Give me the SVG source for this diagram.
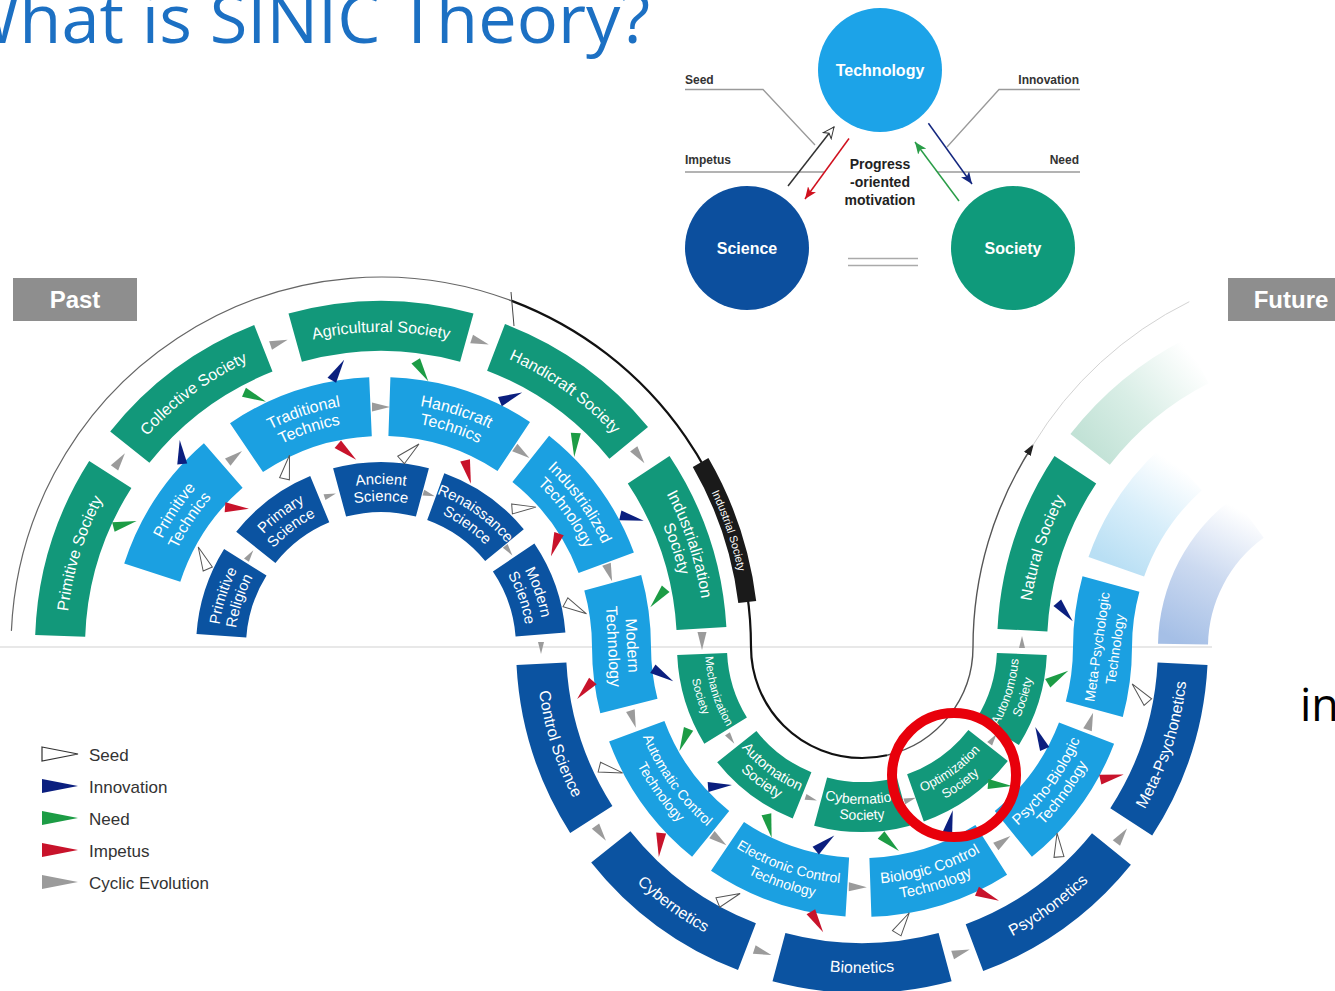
<svg xmlns="http://www.w3.org/2000/svg" width="1335" height="991" viewBox="0 0 1335 991">
<style>
.soc{fill:#12987a}.tec{fill:#1ba0e1}.sci{fill:#0b53a1}
.lbl{font-family:"Liberation Sans",Arial,sans-serif;fill:#fff;text-anchor:middle}
.cyc{fill:#9b9b9b}.seed{fill:#fff;stroke:#555;stroke-width:1}.inno{fill:#0b1f7f}.need{fill:#1c9c45}.imp{fill:#c8132b}
.lead{fill:none;stroke:#9a9a9a;stroke-width:1.3}
.tri{font-family:"Liberation Sans",Arial,sans-serif;font-weight:bold;fill:#fff;font-size:16px;text-anchor:middle}
.tlab{font-family:"Liberation Sans",Arial,sans-serif;font-weight:bold;fill:#333;font-size:12px}
.leg{font-family:"Liberation Sans",Arial,sans-serif;fill:#333;font-size:17px}
</style>
<defs>
<path id="cw315" d="M-202.48,-241.3 A315 315 0 0 1 202.48,-241.3"/>
<path id="cw324" d="M-208.26,-248.2 A324 324 0 0 1 208.26,-248.2"/>
<path id="cw307" d="M-197.34,-235.17 A307 307 0 0 1 197.34,-235.17"/>
<path id="cw244" d="M-156.84,-186.91 A244 244 0 0 1 156.84,-186.91"/>
<path id="cw226" d="M-145.27,-173.13 A226 226 0 0 1 145.27,-173.13"/>
<path id="cw163" d="M-104.77,-124.86 A163 163 0 0 1 104.77,-124.86"/>
<path id="cw146" d="M-93.85,-111.84 A146 146 0 0 1 93.85,-111.84"/>
<path id="cw365" d="M-234.62,-279.6 A365 365 0 0 1 234.62,-279.6"/>
<path id="ccw157" d="M-100.92,120.27 A157 157 0 0 0 100.92,120.27"/>
<path id="ccw173" d="M-111.2,132.53 A173 173 0 0 0 111.2,132.53"/>
<path id="ccw237" d="M-152.34,181.55 A237 237 0 0 0 152.34,181.55"/>
<path id="ccw254" d="M-163.27,194.57 A254 254 0 0 0 163.27,194.57"/>
<path id="ccw326" d="M-209.55,249.73 A326 326 0 0 0 209.55,249.73"/>
<polygon id="tB" points="-12,-5 12,0 -12,5"/>
<polygon id="tG" points="-9,-4.5 9,0 -9,4.5"/>
<polygon id="tS" points="-6,-3 6,0 -6,3"/>
<marker id="tipK" markerUnits="userSpaceOnUse" markerWidth="12" markerHeight="8" refX="10" refY="4" orient="auto"><path d="M0,0 L12,4 L0,8 z" fill="#222"/></marker>
<marker id="mSeed" markerUnits="userSpaceOnUse" markerWidth="14" markerHeight="12" refX="12" refY="6" orient="auto"><path d="M1,1 L12,6 L1,11 L4,6 z" fill="#fff" stroke="#333" stroke-width="1"/></marker>
<marker id="mRed" markerUnits="userSpaceOnUse" markerWidth="13" markerHeight="10" refX="12" refY="5" orient="auto"><path d="M0,0 L12,5 L0,10 L3,5 z" fill="#d0101e"/></marker>
<marker id="mGreen" markerUnits="userSpaceOnUse" markerWidth="13" markerHeight="10" refX="12" refY="5" orient="auto"><path d="M0,0 L12,5 L0,10 L3,5 z" fill="#2a9d48"/></marker>
<marker id="mNavy" markerUnits="userSpaceOnUse" markerWidth="13" markerHeight="10" refX="12" refY="5" orient="auto"><path d="M0,0 L12,5 L0,10 L3,5 z" fill="#14277f"/></marker>
<linearGradient id="gFadeG" gradientUnits="userSpaceOnUse" x1="1090" y1="449" x2="1197" y2="361"><stop offset="0" stop-color="#c2e2d6"/><stop offset="0.45" stop-color="#d9eee6"/><stop offset="1" stop-color="#ffffff"/></linearGradient>
<linearGradient id="gFadeL" gradientUnits="userSpaceOnUse" x1="1117" y1="567" x2="1182" y2="469"><stop offset="0" stop-color="#b9dff4"/><stop offset="0.5" stop-color="#d8eefa"/><stop offset="1" stop-color="#ffffff"/></linearGradient>
<linearGradient id="gFadeD" gradientUnits="userSpaceOnUse" x1="1183" y1="644" x2="1251" y2="516"><stop offset="0" stop-color="#a5bfe6"/><stop offset="0.5" stop-color="#cbd9f0"/><stop offset="1" stop-color="#ffffff"/></linearGradient>
</defs>
<rect width="1335" height="991" fill="#fff"/>

<text x="-44" y="43" font-family="Open Sans, sans-serif" font-size="68" fill="#1c70c3" textLength="694" lengthAdjust="spacingAndGlyphs">What is SINIC Theory?</text>
<text x="1300" y="721" font-family="Open Sans, sans-serif" font-size="45" fill="#000">in</text>

<line x1="0" y1="647" x2="1212" y2="647" stroke="#d2d2d2" stroke-width="1.2"/>

<g id="past"><rect x="13" y="278" width="124" height="43" fill="#8e8e8e"/><text x="75" y="308" font-family="Liberation Sans, Arial, sans-serif" font-weight="bold" font-size="24" fill="#fff" text-anchor="middle">Past</text></g>
<g id="future"><rect x="1228" y="278" width="110" height="43" fill="#8e8e8e"/><text x="1291" y="308" font-family="Liberation Sans, Arial, sans-serif" font-weight="bold" font-size="24" fill="#fff" text-anchor="middle">Future</text></g>

<g id="spiral-line" fill="none">
<path d="M11.4,630.9 A370 370 0 0 1 511.8,300.9" stroke="#666" stroke-width="1.2"/>
<path d="M511.8,300.9 A370 370 0 0 1 751,647 A111 111 0 0 0 862,758 A111 111 0 0 0 887,755.2" stroke="#111" stroke-width="2.2"/>
<path d="M887,755.2 A111 111 0 0 0 973,647 A370 370 0 0 1 1032.7,445.5" stroke="#555" stroke-width="1.4" marker-end="url(#tipK)"/>
<path d="M1032.7,445.5 A378 378 0 0 1 1189.3,301.7" stroke="#d3d3d3" stroke-width="1"/>
<line x1="511" y1="292" x2="514" y2="326" stroke="#444" stroke-width="1"/>
</g>

<g id="industrial-society"><path d="M708.4,458 A378 378 0 0 1 756.2,600.9 L738.3,603.1 A360 360 0 0 0 692.8,467 Z" fill="#1a1a1a"/><text class="lbl" font-size="11" transform="translate(381 647) rotate(71.5)"><textPath href="#cw365" startOffset="50%">Industrial Society</textPath></text></g>

<g id="future-society"><path d="M1070.4,434 A346 346 0 0 1 1185.9,338.7 L1208.6,383.3 A296 296 0 0 0 1109.8,464.8Z" fill="url(#gFadeG)"/></g>
<g id="future-technology"><path d="M1088.5,556.9 A270 270 0 0 1 1162.3,446.4 L1201.8,490.2 A211 211 0 0 0 1144.1,576.6Z" fill="url(#gFadeL)"/></g>
<g id="future-science"><path d="M1158,643.8 A185 185 0 0 1 1234.3,497.3 L1263.7,537.8 A135 135 0 0 0 1208,644.6Z" fill="url(#gFadeD)"/></g>

<g id="primitive-society"><path class="soc" d="M35.2,634.9 A346 346 0 0 1 89.2,461.1 L131.4,488 A296 296 0 0 0 85.2,636.7Z"/><text class="lbl" font-size="16" transform="translate(381 647) rotate(-72.75)"><textPath href="#cw315" startOffset="50%">Primitive Society</textPath></text></g>
<g id="collective-society"><path class="soc" d="M110.2,431.6 A346 346 0 0 1 254.2,325.1 L272.5,371.6 A296 296 0 0 0 149.4,462.7Z"/><text class="lbl" font-size="16" transform="translate(381 647) rotate(-36.5)"><textPath href="#cw315" startOffset="50%">Collective Society</textPath></text></g>
<g id="agricultural-society"><path class="soc" d="M288.5,313.6 A346 346 0 0 1 473.5,313.6 L460.1,361.8 A296 296 0 0 0 301.9,361.8Z"/><text class="lbl" font-size="16" transform="translate(381 647)"><textPath href="#cw315" startOffset="50%">Agricultural Society</textPath></text></g>
<g id="handicraft-society"><path class="soc" d="M505,324 A346 346 0 0 1 648,426.9 L609.4,458.7 A296 296 0 0 0 487.1,370.7Z"/><text class="lbl" font-size="16" transform="translate(381 647) rotate(35.75)"><textPath href="#cw315" startOffset="50%">Handicraft Society</textPath></text></g>
<g id="industrialization-society"><path class="soc" d="M669.5,456 A346 346 0 0 1 726.4,627.1 L676.5,630 A296 296 0 0 0 627.8,483.6Z"/><text class="lbl" font-size="16" transform="translate(381 647) rotate(71.6)"><textPath href="#cw324" startOffset="50%">Industrialization</textPath></text><text class="lbl" font-size="16" transform="translate(381 647) rotate(71.6)"><textPath href="#cw307" startOffset="50%">Society</textPath></text></g>

<g id="primitive-technics"><path class="tec" d="M124.2,563.6 A270 270 0 0 1 203.9,443.2 L242.6,487.8 A211 211 0 0 0 180.3,581.8Z"/><text class="lbl" font-size="16" transform="translate(381 647) rotate(-56.5)"><textPath href="#cw244" startOffset="50%">Primitive</textPath></text><text class="lbl" font-size="16" transform="translate(381 647) rotate(-56.5)"><textPath href="#cw226" startOffset="50%">Technics</textPath></text></g>
<g id="traditional-technics"><path class="tec" d="M230,423.2 A270 270 0 0 1 369.2,377.3 L371.8,436.2 A211 211 0 0 0 263,472.1Z"/><text class="lbl" font-size="16" transform="translate(381 647) rotate(-18.25)"><textPath href="#cw244" startOffset="50%">Traditional</textPath></text><text class="lbl" font-size="16" transform="translate(381 647) rotate(-18.25)"><textPath href="#cw226" startOffset="50%">Technics</textPath></text></g>
<g id="handicraft-technics"><path class="tec" d="M390.4,377.2 A270 270 0 0 1 530,421.9 L497.5,471.1 A211 211 0 0 0 388.4,436.1Z"/><text class="lbl" font-size="16" transform="translate(381 647) rotate(17.75)"><textPath href="#cw244" startOffset="50%">Handicraft</textPath></text><text class="lbl" font-size="16" transform="translate(381 647) rotate(17.75)"><textPath href="#cw226" startOffset="50%">Technics</textPath></text></g>
<g id="industrialized-technology"><path class="tec" d="M549.1,435.7 A270 270 0 0 1 633.9,552.4 L578.6,573.1 A211 211 0 0 0 512.4,481.9Z"/><text class="lbl" font-size="16" transform="translate(381 647) rotate(54)"><textPath href="#cw244" startOffset="50%">Industrialized</textPath></text><text class="lbl" font-size="16" transform="translate(381 647) rotate(54)"><textPath href="#cw226" startOffset="50%">Technology</textPath></text></g>
<g id="modern-technology"><path class="tec" d="M641.2,574.9 A270 270 0 0 1 651,647 A211 211 0 0 0 657.5,698.8 L600.3,713.2 A270 270 0 0 1 592,647 A211 211 0 0 0 584.3,590.6Z"/><text class="lbl" font-size="16" transform="translate(623 646) rotate(87)"><tspan x="0" y="-4">Modern</tspan><tspan x="0" y="15">Technology</tspan></text></g>

<g id="primitive-religion"><path class="sci" d="M196.5,634.1 A185 185 0 0 1 224.1,549 L266.5,575.5 A135 135 0 0 0 246.3,637.6Z"/><text class="lbl" font-size="15" transform="translate(381 647) rotate(-72)"><textPath href="#cw163" startOffset="50%">Primitive</textPath></text><text class="lbl" font-size="15" transform="translate(381 647) rotate(-72)"><textPath href="#cw146" startOffset="50%">Religion</textPath></text></g>
<g id="primary-science"><path class="sci" d="M236.2,531.8 A185 185 0 0 1 310.2,476.1 L329.3,522.3 A135 135 0 0 0 275.4,563Z"/><text class="lbl" font-size="15" transform="translate(381 647) rotate(-37)"><textPath href="#cw163" startOffset="50%">Primary</textPath></text><text class="lbl" font-size="15" transform="translate(381 647) rotate(-37)"><textPath href="#cw146" startOffset="50%">Science</textPath></text></g>
<g id="ancient-science"><path class="sci" d="M333.1,468.3 A185 185 0 0 1 428.9,468.3 L415.9,516.6 A135 135 0 0 0 346.1,516.6Z"/><text class="lbl" font-size="15" transform="translate(381 647)"><textPath href="#cw163" startOffset="50%">Ancient</textPath></text><text class="lbl" font-size="15" transform="translate(381 647)"><textPath href="#cw146" startOffset="50%">Science</textPath></text></g>
<g id="renaissance-science"><path class="sci" d="M444.3,473.2 A185 185 0 0 1 523.8,529.3 L485.2,561.1 A135 135 0 0 0 427.2,520.1Z"/><text class="lbl" font-size="15" transform="translate(381 647) rotate(35.25)"><textPath href="#cw163" startOffset="50%">Renaissance</textPath></text><text class="lbl" font-size="15" transform="translate(381 647) rotate(35.25)"><textPath href="#cw146" startOffset="50%">Science</textPath></text></g>
<g id="modern-science"><path class="sci" d="M534.4,543.6 A185 185 0 0 1 565.4,632.5 L515.6,636.4 A135 135 0 0 0 492.9,571.5Z"/><text class="lbl" font-size="15" transform="translate(381 647) rotate(70.75)"><textPath href="#cw163" startOffset="50%">Modern</textPath></text><text class="lbl" font-size="15" transform="translate(381 647) rotate(70.75)"><textPath href="#cw146" startOffset="50%">Science</textPath></text></g>

<g id="mechanization-society"><path class="soc" d="M704.3,743.7 A185 185 0 0 1 677.2,655.1 L727.1,652.9 A135 135 0 0 0 746.9,717.5Z"/><text class="lbl" font-size="11.5" transform="translate(862 647) rotate(73)"><textPath href="#ccw157" startOffset="50%">Mechanization</textPath></text><text class="lbl" font-size="11.5" transform="translate(862 647) rotate(73)"><textPath href="#ccw173" startOffset="50%">Society</textPath></text></g>
<g id="automation-society"><path class="soc" d="M792.7,818.5 A185 185 0 0 1 717.2,762.2 L756.4,731 A135 135 0 0 0 811.4,772.2Z"/><text class="lbl" font-size="14.5" transform="translate(862 647) rotate(36.75)"><textPath href="#ccw157" startOffset="50%">Automation</textPath></text><text class="lbl" font-size="14.5" transform="translate(862 647) rotate(36.75)"><textPath href="#ccw173" startOffset="50%">Society</textPath></text></g>
<g id="cybernation-society"><path class="soc" d="M909.9,825.7 A185 185 0 0 1 814.1,825.7 L827.1,777.4 A135 135 0 0 0 896.9,777.4Z"/><text class="lbl" font-size="14" transform="translate(862 647)"><textPath href="#ccw157" startOffset="50%">Cybernation</textPath></text><text class="lbl" font-size="14" transform="translate(862 647)"><textPath href="#ccw173" startOffset="50%">Society</textPath></text></g>
<g id="optimization-society"><path class="soc" d="M1007.8,760.9 A185 185 0 0 1 923.8,821.4 L907.1,774.3 A135 135 0 0 0 968.4,730.1Z"/><text class="lbl" font-size="13" transform="translate(862 647) rotate(-35.75)"><textPath href="#ccw157" startOffset="50%">Optimization</textPath></text><text class="lbl" font-size="13" transform="translate(862 647) rotate(-35.75)"><textPath href="#ccw173" startOffset="50%">Society</textPath></text></g>
<g id="autonomous-society"><path class="soc" d="M1046.8,655.1 A185 185 0 0 1 1018.9,745 L976.5,718.5 A135 135 0 0 0 996.9,652.9Z"/><text class="lbl" font-size="12.5" transform="translate(862 647) rotate(-72.75)"><textPath href="#ccw157" startOffset="50%">Autonomous</textPath></text><text class="lbl" font-size="12.5" transform="translate(862 647) rotate(-72.75)"><textPath href="#ccw173" startOffset="50%">Society</textPath></text></g>

<g id="automatic-control-technology"><path class="tec" d="M692.1,856.8 A270 270 0 0 1 609.1,741.6 L664.4,720.9 A211 211 0 0 0 729.2,811Z"/><text class="lbl" font-size="14" transform="translate(862 647) rotate(54.25)"><textPath href="#ccw237" startOffset="50%">Automatic Control</textPath></text><text class="lbl" font-size="14" transform="translate(862 647) rotate(54.25)"><textPath href="#ccw254" startOffset="50%">Technology</textPath></text></g>
<g id="electronic-control-technology"><path class="tec" d="M845.5,916.5 A270 270 0 0 1 711,870.8 L744,821.9 A211 211 0 0 0 849.1,857.6Z"/><text class="lbl" font-size="14" transform="translate(862 647) rotate(18.75)"><textPath href="#ccw237" startOffset="50%">Electronic Control</textPath></text><text class="lbl" font-size="14" transform="translate(862 647) rotate(18.75)"><textPath href="#ccw254" startOffset="50%">Technology</textPath></text></g>
<g id="biologic-control-technology"><path class="tec" d="M1007.1,874.7 A270 270 0 0 1 871.4,916.8 L869.4,857.9 A211 211 0 0 0 975.4,825Z"/><text class="lbl" font-size="15" transform="translate(862 647) rotate(-17.25)"><textPath href="#ccw237" startOffset="50%">Biologic Control</textPath></text><text class="lbl" font-size="15" transform="translate(862 647) rotate(-17.25)"><textPath href="#ccw254" startOffset="50%">Technology</textPath></text></g>
<g id="psycho-biologic-technology"><path class="tec" d="M1114.1,743.8 A270 270 0 0 1 1031.9,856.8 L994.8,811 A211 211 0 0 0 1059,722.6Z"/><text class="lbl" font-size="15" transform="translate(862 647) rotate(-54)"><textPath href="#ccw237" startOffset="50%">Psycho-Biologic</textPath></text><text class="lbl" font-size="15" transform="translate(862 647) rotate(-54)"><textPath href="#ccw254" startOffset="50%">Technology</textPath></text></g>
<g id="meta-psychologic-technology"><path class="tec" d="M1065.8,701.6 L1122.8,716.9 A270 270 0 0 0 1132,647 A211 211 0 0 1 1139.4,591.7 L1082.5,576.2 A270 270 0 0 0 1073,647 A211 211 0 0 1 1065.8,701.6Z"/><text class="lbl" font-size="14" transform="translate(1106 648) rotate(-82)"><tspan x="0" y="-4">Meta-Psychologic</tspan><tspan x="0" y="14">Technology</tspan></text></g>

<g id="control-science"><path class="sci" d="M570.2,832.9 A346 346 0 0 1 516.5,665.1 L566.4,662.5 A296 296 0 0 0 612.4,806Z"/><text class="lbl" font-size="16" transform="translate(862 647) rotate(72.25)"><textPath href="#ccw326" startOffset="50%">Control Science</textPath></text></g>
<g id="cybernetics"><path class="sci" d="M738,970 A346 346 0 0 1 591.2,862.4 L630.4,831.3 A296 296 0 0 0 755.9,923.3Z"/><text class="lbl" font-size="16" transform="translate(862 647) rotate(36.25)"><textPath href="#ccw326" startOffset="50%">Cybernetics</textPath></text></g>
<g id="bionetics"><path class="sci" d="M951.6,981.2 A346 346 0 0 1 772.5,981.2 L785.4,932.9 A296 296 0 0 0 938.6,932.9Z"/><text class="lbl" font-size="16" transform="translate(862 647)"><textPath href="#ccw326" startOffset="50%">Bionetics</textPath></text></g>
<g id="psychonetics"><path class="sci" d="M1130.9,864.7 A346 346 0 0 1 983.2,971.1 L965.7,924.3 A296 296 0 0 0 1092,833.3Z"/><text class="lbl" font-size="16" transform="translate(862 647) rotate(-35.75)"><textPath href="#ccw326" startOffset="50%">Psychonetics</textPath></text></g>
<g id="meta-psychonetics"><path class="sci" d="M1207.5,665.1 A346 346 0 0 1 1152.2,835.5 L1110.3,808.2 A296 296 0 0 0 1157.6,662.5Z"/><text class="lbl" font-size="16" transform="translate(862 647) rotate(-72)"><textPath href="#ccw326" startOffset="50%">Meta-Psychonetics</textPath></text></g>

<g id="natural-society"><path class="soc" d="M997.5,628.9 A346 346 0 0 1 1054.5,456 L1096.2,483.6 A296 296 0 0 0 1047.4,631.5Z"/><text class="lbl" font-size="16" transform="translate(1343 647) rotate(-71.75)"><textPath href="#cw315" startOffset="50%">Natural Society</textPath></text></g>

<g id="connectors">
<use href="#tG" class="cyc" transform="translate(119.7 460.6) rotate(305.5)"/>
<use href="#tG" class="cyc" transform="translate(279.1 342.6) rotate(341.5)"/>
<use href="#tG" class="cyc" transform="translate(480.2 341.7) rotate(18)"/>
<use href="#tG" class="cyc" transform="translate(639.1 456.1) rotate(53.5)"/>
<use href="#tG" class="cyc" transform="translate(702 641) rotate(90)"/>
<use href="#tG" class="cyc" transform="translate(234.9 456.6) rotate(322.5)"/>
<use href="#tG" class="cyc" transform="translate(381 407)"/>
<use href="#tG" class="cyc" transform="translate(522.1 452.8) rotate(36)"/>
<use href="#tG" class="cyc" transform="translate(609.3 572.8) rotate(72)"/>
<use href="#tS" class="cyc" transform="translate(249.9 555.2) rotate(305)"/>
<use href="#tS" class="cyc" transform="translate(330.2 495.3) rotate(341.5)"/>
<use href="#tS" class="cyc" transform="translate(429.1 494.4) rotate(17.5)"/>
<use href="#tS" class="cyc" transform="translate(508.8 550.7) rotate(53)"/>
<use href="#tS" class="cyc" transform="translate(541 648) rotate(90)"/>
<use href="#tS" class="cyc" transform="translate(730.9 738.8) rotate(55)"/>
<use href="#tS" class="cyc" transform="translate(811.2 798.7) rotate(18.5)"/>
<use href="#tS" class="cyc" transform="translate(910.1 799.6) rotate(-17.5)"/>
<use href="#tS" class="cyc" transform="translate(993.1 738.8) rotate(-55)"/>
<use href="#tS" class="cyc" transform="translate(1022 642) rotate(-90)"/>
<use href="#tG" class="cyc" transform="translate(633.1 719.2) rotate(72.5)"/>
<use href="#tG" class="cyc" transform="translate(719.2 839.9) rotate(36.5)"/>
<use href="#tG" class="cyc" transform="translate(857.8 887) rotate(1)"/>
<use href="#tG" class="cyc" transform="translate(1003.1 841.2) rotate(-36)"/>
<use href="#tG" class="cyc" transform="translate(1090.3 721.2) rotate(-72)"/>
<use href="#tG" class="cyc" transform="translate(600.7 833.4) rotate(54.5)"/>
<use href="#tG" class="cyc" transform="translate(762.8 952.3) rotate(18)"/>
<use href="#tG" class="cyc" transform="translate(961.2 952.3) rotate(-18)"/>
<use href="#tG" class="cyc" transform="translate(1121.7 835.7) rotate(-54)"/>
<use href="#tB" class="seed" transform="translate(203 558) rotate(246.6)"/>
<use href="#tB" class="imp" transform="translate(237 508) rotate(4)"/>
<use href="#tB" class="seed" transform="translate(287 467) rotate(282)"/>
<use href="#tB" class="imp" transform="translate(347 452) rotate(40)"/>
<use href="#tB" class="seed" transform="translate(410 452) rotate(318.5)"/>
<use href="#tB" class="imp" transform="translate(468 472) rotate(76)"/>
<use href="#tB" class="seed" transform="translate(524 508) rotate(355.8)"/>
<use href="#tB" class="imp" transform="translate(555 545) rotate(109.6)"/>
<use href="#tB" class="seed" transform="translate(576 608) rotate(28.7)"/>
<use href="#tB" class="need" transform="translate(125 524) rotate(345.5)"/>
<use href="#tB" class="inno" transform="translate(181 452) rotate(264)"/>
<use href="#tB" class="need" transform="translate(255 397) rotate(23.3)"/>
<use href="#tB" class="inno" transform="translate(338 370) rotate(301)"/>
<use href="#tB" class="need" transform="translate(422 371) rotate(58.5)"/>
<use href="#tB" class="inno" transform="translate(511 397) rotate(337.5)"/>
<use href="#tB" class="need" transform="translate(575 445) rotate(93.8)"/>
<use href="#tB" class="inno" transform="translate(632 518) rotate(12.8)"/>
<use href="#tB" class="need" transform="translate(658 598) rotate(130)"/>
<use href="#tB" class="imp" transform="translate(585 690) rotate(131)"/>
<use href="#tB" class="seed" transform="translate(611 770) rotate(13.9)"/>
<use href="#tB" class="imp" transform="translate(660 845) rotate(95.6)"/>
<use href="#tB" class="seed" transform="translate(729 898) rotate(338)"/>
<use href="#tB" class="imp" transform="translate(817 922) rotate(59.3)"/>
<use href="#tB" class="seed" transform="translate(903 923) rotate(301.5)"/>
<use href="#tB" class="imp" transform="translate(988 896) rotate(23.2)"/>
<use href="#tB" class="seed" transform="translate(1058 845) rotate(265.3)"/>
<use href="#tB" class="imp" transform="translate(1112 777) rotate(347.5)"/>
<use href="#tB" class="seed" transform="translate(1140 693) rotate(229.4)"/>
<use href="#tB" class="inno" transform="translate(663 675) rotate(32)"/>
<use href="#tB" class="need" transform="translate(684 740) rotate(112.4)"/>
<use href="#tB" class="inno" transform="translate(720 786) rotate(355.6)"/>
<use href="#tB" class="need" transform="translate(769 826) rotate(77.5)"/>
<use href="#tB" class="inno" transform="translate(825 843) rotate(320.7)"/>
<use href="#tB" class="need" transform="translate(890 843) rotate(41.9)"/>
<use href="#tB" class="inno" transform="translate(950 822) rotate(283.3)"/>
<use href="#tB" class="need" transform="translate(1000 785) rotate(5)"/>
<use href="#tB" class="inno" transform="translate(1040 738) rotate(247)"/>
<use href="#tB" class="need" transform="translate(1058 677) rotate(328.7)"/>
<use href="#tB" class="inno" transform="translate(1065 612) rotate(50)"/>
</g>

<g id="legend">
<polygon points="42,747 78,754 42,761" fill="#fff" stroke="#333" stroke-width="1.2"/>
<polygon points="42,779 78,786 42,793" fill="#0b1f7f"/>
<polygon points="42,811 78,818 42,825" fill="#1c9c45"/>
<polygon points="42,843 78,850 42,857" fill="#c8132b"/>
<polygon points="42,875 78,882 42,889" fill="#9b9b9b"/>
<text class="leg" x="89" y="761">Seed</text>
<text class="leg" x="89" y="793">Innovation</text>
<text class="leg" x="89" y="825">Need</text>
<text class="leg" x="89" y="857">Impetus</text>
<text class="leg" x="89" y="889">Cyclic Evolution</text>
</g>

<g id="triad">
<g id="triad-leaders">
<polyline class="lead" points="685,89.5 763,89.5 815,145"/>
<polyline class="lead" points="1080,89.5 999,89.5 947,147"/>
<line class="lead" x1="685" y1="172" x2="824" y2="172"/>
<line class="lead" x1="937" y1="172" x2="1080" y2="172"/>
<text class="tlab" x="685" y="84">Seed</text>
<text class="tlab" x="1079" y="84" text-anchor="end">Innovation</text>
<text class="tlab" x="685" y="164">Impetus</text>
<text class="tlab" x="1079" y="164" text-anchor="end">Need</text>
</g>
<g id="technology"><circle cx="880" cy="70" r="62" fill="#1ca3e8"/><text class="tri" x="880" y="76">Technology</text></g>
<g id="science"><circle cx="747" cy="248" r="62" fill="#0c4f9e"/><text class="tri" x="747" y="254">Science</text></g>
<g id="society"><circle cx="1013" cy="248" r="62" fill="#0f9a7b"/><text class="tri" x="1013" y="254">Society</text></g>
<g id="triad-arrows" fill="none" stroke-width="1.5">
<line x1="788" y1="186" x2="834" y2="127" stroke="#333" marker-end="url(#mSeed)"/>
<line x1="849" y1="138.5" x2="805" y2="199" stroke="#d0101e" marker-end="url(#mRed)"/>
<line x1="959" y1="201" x2="915" y2="142" stroke="#2a9d48" marker-end="url(#mGreen)"/>
<line x1="928.4" y1="123.3" x2="972" y2="184" stroke="#14277f" marker-end="url(#mNavy)"/>
<line x1="848" y1="258.5" x2="918" y2="258.5" stroke="#aaa"/>
<line x1="848" y1="265.5" x2="918" y2="265.5" stroke="#aaa"/>
</g>
<g id="progress-label" font-family="Liberation Sans, Arial, sans-serif" font-weight="bold" font-size="14" fill="#222" text-anchor="middle">
<text x="880" y="169">Progress</text>
<text x="880" y="187">-oriented</text>
<text x="880" y="205">motivation</text>
</g>
</g>

<circle id="highlight" cx="954" cy="775" r="62" fill="none" stroke="#e8000b" stroke-width="10"/>
</svg>
